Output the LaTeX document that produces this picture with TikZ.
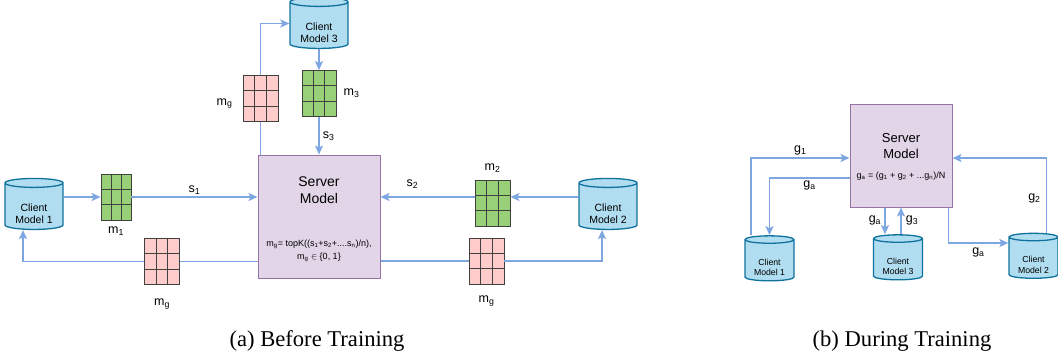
\documentclass[tikz,border=0pt]{standalone}
\usepackage{fontspec}
\setmainfont{Liberation Sans}
\newfontfamily\capfont{Liberation Serif}
\usetikzlibrary{shapes.geometric,arrows.meta,calc,positioning}
\definecolor{flowblue}{HTML}{7EA6E0}
\definecolor{dbfill}{HTML}{B1DDF0}
\definecolor{dbline}{HTML}{10739E}
\definecolor{srvfill}{HTML}{E1D5E7}
\definecolor{srvline}{HTML}{9673A6}
\definecolor{wgreen}{HTML}{97D077}
\definecolor{wpink}{HTML}{FFCCCC}
\definecolor{cellline}{HTML}{404040}
\newcommand{\cylspace}{\phantom{\shortstack{Client\\Model 1}}}
\tikzset{
  flow/.style={flowblue, line width=1.8pt, -{Stealth[length=9pt,width=8pt,inset=2pt]}},
  flowline/.style={flowblue, line width=1.8pt},
  client/.style={cylinder, shape border rotate=90, aspect=0.24, draw=dbline, fill=dbfill, line width=1.3pt,
    inner sep=0pt, minimum width=58pt, minimum height=51pt, font=\fontsize{10.5}{12}\selectfont},
  clientb/.style={client, minimum width=49pt, minimum height=45pt, font=\fontsize{8.7}{10.5}\selectfont},
  cyltext/.style={align=center, text=black, yshift=-7pt, font=\fontsize{10.5}{12}\selectfont},
  cyltextb/.style={cyltext, font=\fontsize{8.7}{10.5}\selectfont},
  server/.style={draw=srvline, fill=srvfill, line width=1pt, inner sep=0pt},
  weights/.style={draw=cellline, line width=0.8pt, inner sep=0pt, minimum width=35pt, minimum height=46pt,
    path picture={
      \foreach \f in {1,2}{
        \draw[cellline, line width=0.8pt] ($(path picture bounding box.north west)!\f/3!(path picture bounding box.north east)$) -- ($(path picture bounding box.south west)!\f/3!(path picture bounding box.south east)$);
        \draw[cellline, line width=0.8pt] ($(path picture bounding box.north west)!\f/3!(path picture bounding box.south west)$) -- ($(path picture bounding box.north east)!\f/3!(path picture bounding box.south east)$);
      }}},
  lbl/.style={font=\fontsize{12.5}{14}\selectfont, text=black, inner sep=1pt},
  formula/.style={font=\fontsize{9}{13}\selectfont, align=center, inner sep=0pt},
}
\begin{document}
\begin{tikzpicture}[x=1pt,y=-1pt]
\useasboundingbox (0,0) rectangle (1058,360);

\node[server, minimum width=122pt, minimum height=123pt] (srv) at (319,216.5) {};
\node[font=\fontsize{14}{17}\selectfont, align=center] (srvname) at (319,190.5) {Server\\Model};
\node[formula] (srvrule) at (319,251) {m\textsubscript{g}= topK((s\textsubscript{1}+s\textsubscript{2}+....s\textsubscript{n})/n),\\m\textsubscript{g} $\in$ \{0, 1\}};

\node[client, label={[cyltext]center:Client\\Model 1}] (cm1) at (34,206.5) {\cylspace};
\node[client, label={[cyltext]center:Client\\Model 2}] (cm2) at (608,206.5) {\cylspace};
\node[client, label={[cyltext]center:Client\\Model 3}] (cm3) at (319,25.5) {\cylspace};

\node[weights, fill=wgreen, minimum width=30pt] (m1) at (116,197) {};
\node[weights, fill=wgreen] (m2) at (492.5,203) {};
\node[weights, fill=wgreen, minimum width=34pt] (m3) at (319,93.5) {};
\node[weights, fill=wpink] (mgt) at (260.5,98.5) {};
\node[weights, fill=wpink] (mgl) at (162,261.5) {};
\node[weights, fill=wpink] (mgr) at (486.5,261) {};

\node[lbl, below=5pt of m1] (m1lbl) {m\textsubscript{1}};
\node[lbl, above=6pt of m2] (m2lbl) {m\textsubscript{2}};
\node[lbl, right=6pt of m3] (m3lbl) {m\textsubscript{3}};
\node[lbl, left=9pt of mgt, yshift=-5pt] (mgtlbl) {m\textsubscript{g}};
\node[lbl, below=13pt of mgl] (mgllbl) {m\textsubscript{g}};
\node[lbl, below=10pt of mgr] (mgrlbl) {m\textsubscript{g}};

\draw[flow] (cm1.east |- m1) -- (m1);
\draw[flow] (m1) -- (m1 -| srv.west) node[lbl, midway, above=1pt] {s\textsubscript{1}};
\draw[flow] (cm2.west |- m1) -- (m2.east |- m1);
\draw[flow] (m2.west |- m1) -- (srv.east |- m1) node[lbl, pos=0.66, above=7pt] {s\textsubscript{2}};
\draw[flowline] (mgt |- srv.north) -- (mgt);
\draw[flow] (mgt) |- ([yshift=2pt]cm3.west);
\draw[flow] (cm3) -- (m3);
\draw[flow] (m3) -- (srv) node[lbl, midway, right=2pt] {s\textsubscript{3}};
\draw[flowline] (srv.west |- mgl) -- (mgl);
\draw[flow] (mgl) -| ([xshift=-11pt]cm1.south);
\draw[flowline] (srv.east |- mgr) -- (mgr);
\draw[flow] (mgr) -| ([xshift=-6pt]cm2.south);

\node[server, minimum width=102pt, minimum height=103pt] (srvb) at (901,155.5) {};
\node[font=\fontsize{13}{16}\selectfont, align=center] (srvbname) at (901,145.8) {Server\\Model};
\node[formula] (srvbrule) at (901,176.5) {g\textsubscript{a} = (g\textsubscript{1} + g\textsubscript{2} + ...g\textsubscript{n})/N};

\node[clientb, label={[cyltextb]center:Client\\Model 1}] (cb1) at (769.5,260.5) {\cylspace};
\node[clientb, label={[cyltextb]center:Client\\Model 3}] (cb3) at (898,259.5) {\cylspace};
\node[clientb, label={[cyltextb]center:Client\\Model 2}] (cb2) at (1033.5,258) {\cylspace};

\draw[flow] ([xshift=-18.5pt]cb1.north) |- ([yshift=-2.5pt]srvb.west) node[lbl, pos=0.75, above=1pt] {g\textsubscript{1}};
\draw[flow] ([yshift=-22.5pt]srvb.west) -| (cb1.north) node[lbl, pos=0.25, below=1pt] {g\textsubscript{a}};
\draw[flow] ([xshift=-16pt]srvb.south) -- ([xshift=-16pt]srvb.south |- cb3.north) node[lbl, midway, left=2pt] {g\textsubscript{a}};
\draw[flow] (srvb.south |- cb3.north) -- (srvb.south) node[lbl, midway, right=3pt] {g\textsubscript{3}};
\draw[flow] ([xshift=-4pt]srvb.south east) |- ([yshift=15pt]cb2.west) node[lbl, pos=0.75, below=3pt] {g\textsubscript{a}};
\draw[flow] ([xshift=13pt]cb2.north) |- ([yshift=-2.5pt]srvb.east) node[lbl, pos=0.23, left=4pt] {g\textsubscript{2}};

\node[font=\capfont\fontsize{22.6}{26}\selectfont] (capa) at (317,341) {(a) Before Training};
\node[font=\capfont\fontsize{22.6}{26}\selectfont] (capb) at (902,341) {(b) During Training};
\end{tikzpicture}
\end{document}
